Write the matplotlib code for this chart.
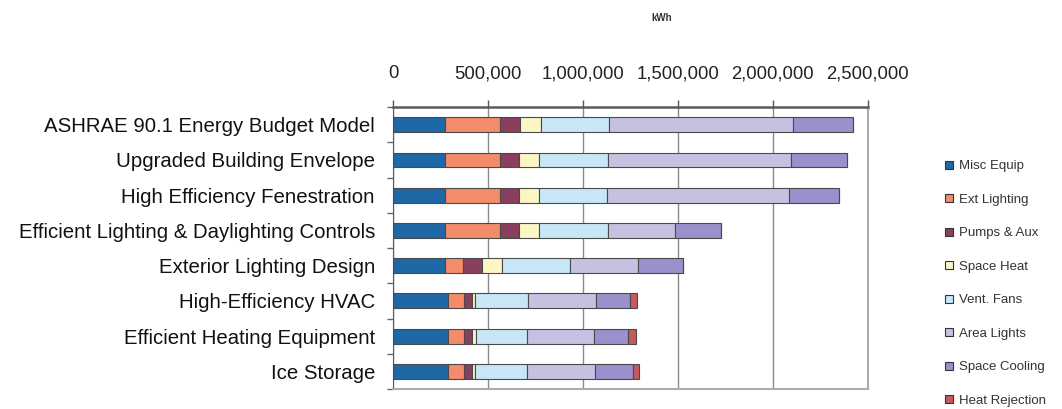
import matplotlib
matplotlib.use("Agg")
import matplotlib.pyplot as plt
from matplotlib.patches import Patch
from matplotlib.ticker import FuncFormatter, MultipleLocator
import numpy as np

plt.rcParams['font.family'] = ['Liberation Sans', 'DejaVu Sans']

# categories, top to bottom
scenarios = [
    "ASHRAE 90.1 Energy Budget Model",
    "Upgraded Building Envelope",
    "High Efficiency Fenestration",
    "Efficient Lighting & Daylighting Controls",
    "Exterior Lighting Design",
    "High-Efficiency HVAC",
    "Efficient Heating Equipment",
    "Ice Storage",
]

end_uses = ["Misc Equip", "Ext Lighting", "Pumps & Aux", "Space Heat",
            "Vent. Fans", "Area Lights", "Space Cooling", "Heat Rejection"]

# kWh per end use, one value per scenario
misc_equip     = [275000, 275000, 275000, 275000, 275000, 289000, 289000, 289000]
ext_lighting   = [291000, 291000, 291000, 291000, 93000, 84000, 84000, 84000]
pumps_aux      = [105000, 100000, 100000, 96000, 100000, 42000, 42000, 42000]
space_heat     = [109000, 105000, 102000, 109000, 105000, 19000, 22000, 19000]
vent_fans      = [360000, 361000, 358000, 361000, 361000, 275000, 268000, 272000]
area_lights    = [965000, 966000, 961000, 351000, 354000, 358000, 356000, 356000]
space_cooling  = [316000, 295000, 263000, 244000, 240000, 181000, 179000, 200000]
heat_rejection = [0, 0, 0, 0, 0, 39000, 40000, 35000]

series = [misc_equip, ext_lighting, pumps_aux, space_heat,
          vent_fans, area_lights, space_cooling, heat_rejection]
colors = ['#1f68a6', '#f28c6a', '#8a3f5f', '#fcf5c4',
          '#c7e7f7', '#c6c1e1', '#9b90cb', '#c35a5e']

fig = plt.figure(figsize=(10.62, 4.09), dpi=100)
ax = fig.add_axes([0.370, 0.049, 0.447, 0.689])

y = np.arange(len(scenarios))
left = np.zeros(len(scenarios))
for vals, col, name in zip(series, colors, end_uses):
    vals = np.array(vals, dtype=float)
    ax.barh(y, vals, left=left, height=0.42, color=col,
            edgecolor='#4a4a4a', linewidth=0.8, label=name, zorder=3)
    left += vals

ax.set_xlim(0, 2500000)
ax.set_ylim(len(scenarios) - 0.5, -0.5)

ax.xaxis.tick_top()
ax.xaxis.set_major_locator(MultipleLocator(500000))
ax.xaxis.set_major_formatter(FuncFormatter(lambda v, p: f"{int(v):,}"))
ax.tick_params(axis='x', which='major', length=5, width=1, color='#555555',
               pad=13, labelsize=13.3, labelcolor='#222222')
ax.grid(axis='x', color='#8a8a8a', linewidth=1, zorder=0)

ax.set_yticks(y)
ax.set_yticklabels(scenarios)
ax.set_yticks(np.arange(len(scenarios) + 1) - 0.5, minor=True)
ax.tick_params(axis='y', which='major', length=0, pad=13, labelsize=14.7,
               labelcolor='#111111')
ax.tick_params(axis='y', which='minor', length=4, width=1, color='#666666')

ax.spines['top'].set_color('#5a5a5a')
ax.spines['top'].set_linewidth(1.8)
ax.spines['left'].set_color('#5a5a5a')
ax.spines['bottom'].set_color('#b0abab')
ax.spines['bottom'].set_linewidth(1.5)
ax.spines['right'].set_color('#b0abab')
ax.spines['right'].set_linewidth(1.5)

fig.text(0.623, 0.955, "kWh", fontsize=7, fontweight='bold', color='#333333',
         ha='center', va='center')

handles = [Patch(facecolor=c, edgecolor='#333333', linewidth=0.8) for c in colors]
fig.legend(handles, end_uses, loc='upper left', bbox_to_anchor=(0.884, 0.624),
           frameon=False, fontsize=9.5, handlelength=0.6, handleheight=0.6,
           handletextpad=0.4, labelspacing=1.63, borderpad=0, labelcolor='#333333')

fig.savefig("out.png", dpi=100)
